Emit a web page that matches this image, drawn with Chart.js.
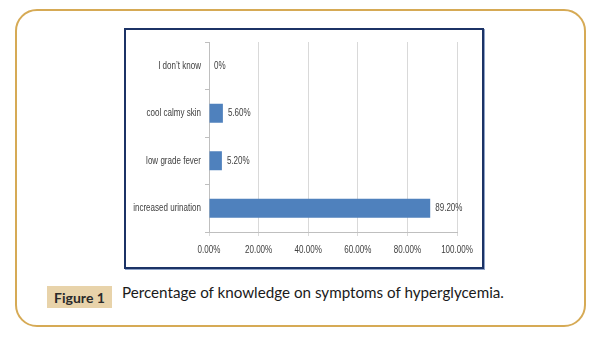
<!DOCTYPE html>
<html>
<head>
<meta charset="utf-8">
<script src="https://cdn.jsdelivr.net/npm/chart.js@4"></script>
<style>
  body { margin: 0; background: #fff; width: 608px; height: 347px; position: relative; overflow: hidden; }
  .frame { position: absolute; left: 15px; top: 9px; width: 571px; height: 318px; border: 2px solid #d6aa55; border-radius: 22px; box-sizing: border-box; }
  .chartBox { position: absolute; left: 124px; top: 28px; width: 360px; height: 241px; border: 2.5px solid #1c3366; box-sizing: border-box; box-shadow: 1px 1px 0 #8fa3c8; }
  .chartBox canvas { position: absolute; left: 0; top: 0; }
  .figTag { position: absolute; left: 47px; top: 286px; width: 65px; height: 22px; background: #e8d3aa; font: bold 14px Lato, "Open Sans", sans-serif; color: #2a2a2a; text-align: center; line-height: 23px; }
  .caption { position: absolute; left: 122px; top: 283px; font: 15.2px Lato, "Open Sans", sans-serif; color: #1a1a1a; }
</style>
</head>
<body>
<div class="frame"></div>
<div class="chartBox"><canvas id="chart" width="355" height="236"></canvas></div>
<div class="figTag">Figure 1</div>
<div class="caption">Percentage of knowledge on symptoms of hyperglycemia.</div>
<script>
const categories = ['I don\u2019t know', 'cool calmy skin', 'low grade fever', 'increased urination'];
const percentValues = [0, 5.6, 5.2, 89.2];
const valueLabels = ['0%', '5.60%', '5.20%', '89.20%'];
const xTicks = [0, 20, 40, 60, 80, 100];

const labelFont = '11px "Liberation Sans", Arial, sans-serif';
const squeeze = 0.73;   // the original uses a narrow office font

function narrowText(ctx, text, x, y, align) {
  ctx.save();
  ctx.translate(x, y);
  ctx.scale(squeeze, 1);
  ctx.textAlign = align;
  ctx.fillText(text, 0, 0);
  ctx.restore();
}

// axis labels and value labels, drawn narrow
const narrowLabels = {
  id: 'narrowLabels',
  afterDatasetsDraw(chart) {
    const ctx = chart.ctx;
    const xs = chart.scales.x, ys = chart.scales.y;
    ctx.save();
    ctx.font = labelFont;
    ctx.fillStyle = '#404040';
    ctx.textBaseline = 'middle';
    categories.forEach((c, i) => {
      narrowText(ctx, c, ys.right - 8, ys.getPixelForValue(i), 'right');
    });
    xTicks.forEach(v => {
      narrowText(ctx, v.toFixed(2) + '%', xs.getPixelForValue(v), xs.top + 18, 'center');
    });
    chart.getDatasetMeta(0).data.forEach((bar, i) => {
      narrowText(ctx, valueLabels[i], bar.x + 5, bar.y, 'left');
    });
    ctx.restore();
  }
};

new Chart(document.getElementById('chart'), {
  type: 'bar',
  data: {
    labels: categories,
    datasets: [{
      data: percentValues,
      backgroundColor: '#4f81bd',
      borderWidth: 0,
      barPercentage: 0.4,
      categoryPercentage: 1
    }]
  },
  options: {
    indexAxis: 'y',
    responsive: false,
    animation: false,
    layout: { padding: { top: 12, right: 24, left: 0, bottom: 0 } },
    plugins: { legend: { display: false }, tooltip: { enabled: false } },
    scales: {
      x: {
        min: 0,
        max: 100,
        afterFit(axis) { axis.height = 34; },
        afterBuildTicks(axis) { axis.ticks = xTicks.map(v => ({ value: v })); },
        grid: { color: '#d9d9d9', tickLength: 4, lineWidth: 1 },
        border: { color: '#bfbfbf' },
        ticks: { display: false }
      },
      y: {
        afterFit(axis) { axis.width = 83; },
        grid: { drawOnChartArea: false, color: '#bfbfbf', tickLength: 4, offset: true },
        border: { color: '#bfbfbf' },
        ticks: { display: false }
      }
    }
  },
  plugins: [narrowLabels]
});
</script>
</body>
</html>
